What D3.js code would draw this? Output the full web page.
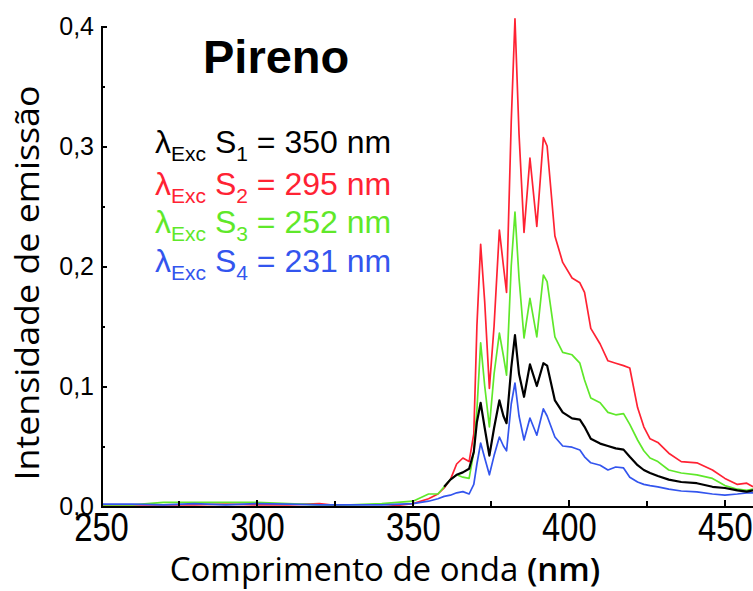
<!DOCTYPE html>
<html lang="pt">
  <head>
    <meta charset="utf-8" />
    <script src="https://d3js.org/d3.v7.min.js"></script>
    <style>
      body {
        margin: 0;
        background: #fff;
      }
      .axis path,
      .axis line {
        stroke: #000;
        stroke-width: 2px;
        shape-rendering: crispEdges;
      }
      .axis text {
        font-family: "Liberation Sans", Arial, sans-serif;
        fill: #000;
      }
    </style>
  </head>
  <body>
    <svg width="753" height="591"></svg>
    <script>
      // comprimento de onda (nm)
      var wavelengths = [250, 260, 270, 280, 290, 300, 310, 320, 330, 340, 350, 355, 358, 360, 362, 364, 366, 368, 369.5, 370.5,
        371.7, 373, 374.5, 376, 377.7, 379, 380, 381.5, 382.7, 384, 385.6, 387.5, 389.7, 391.8, 393, 395.5, 398, 401, 403.5, 405,
        407, 410, 412.5, 415, 417.5, 419.5, 422, 424, 426, 428.5, 432, 436, 441, 446, 450, 454, 457, 459];

      // S1 (350 nm) - only recorded from 360 nm
      var s1 = [null, null, null, null, null, null, null, null, null, null, null, null, null, 0.016, 0.022, 0.026, 0.028, 0.031, 0.045, 0.07,
        0.086, 0.065, 0.042, 0.065, 0.088, 0.075, 0.069, 0.115, 0.1425, 0.11, 0.091, 0.118, 0.1, 0.119, 0.117, 0.088, 0.078, 0.073, 0.072, 0.066,
        0.056, 0.052, 0.05, 0.048, 0.047, 0.041, 0.034, 0.03, 0.0275, 0.025, 0.022, 0.02, 0.019, 0.016, 0.015, 0.013, 0.012, 0.013];

      var s2 = [0.001, 0.001, 0.001, 0.001, 0.0015, 0.001, 0.001, 0.002, -0.001, -0.001, 0.002, 0.006, 0.01, 0.015, 0.022, 0.035, 0.04, 0.037, 0.06, 0.15,
        0.218, 0.17, 0.098, 0.15, 0.23, 0.2, 0.178, 0.32, 0.406, 0.31, 0.228, 0.29, 0.233, 0.307, 0.3, 0.225, 0.203, 0.19, 0.186, 0.178,
        0.148, 0.135, 0.121, 0.119, 0.117, 0.115, 0.082, 0.066, 0.056, 0.053, 0.044, 0.037, 0.036, 0.03, 0.023, 0.018, 0.019, 0.016];

      var s3 = [0.001, 0.001, 0.003, 0.003, 0.003, 0.003, 0.002, 0.001, 0.001, 0.002, 0.004, 0.01, 0.01, 0.016, 0.022, 0.026, 0.024, 0.023, 0.045, 0.08,
        0.136, 0.1, 0.066, 0.11, 0.144, 0.125, 0.109, 0.2, 0.245, 0.19, 0.14, 0.173, 0.141, 0.1925, 0.187, 0.141, 0.128, 0.126, 0.119, 0.105,
        0.09, 0.086, 0.078, 0.076, 0.077, 0.068, 0.055, 0.046, 0.04, 0.037, 0.03, 0.0275, 0.026, 0.023, 0.017, 0.014, 0.013, 0.014];

      var s4 = [0.0015, 0.0015, 0.001, 0.002, 0.001, 0.002, 0.0015, 0.001, 0.001, 0.001, 0.002, 0.004, 0.006, 0.008, 0.009, 0.011, 0.012, 0.01, 0.018, 0.035,
        0.0525, 0.04, 0.026, 0.042, 0.0575, 0.05, 0.046, 0.085, 0.1025, 0.075, 0.055, 0.0733, 0.059, 0.081, 0.075, 0.0575, 0.05, 0.049, 0.0467, 0.041,
        0.036, 0.034, 0.03, 0.0325, 0.0317, 0.024, 0.02, 0.018, 0.017, 0.016, 0.014, 0.0125, 0.0117, 0.01, 0.009, 0.01, 0.011, 0.011];

      var seriesNames = ["S1", "S2", "S3", "S4"];
      var excitation = ["350", "295", "252", "231"];
      var colors = ["#000000", "#ff2233", "#5fe82a", "#3355ee"];
      var xTicks = [250, 300, 350, 400, 450];
      var yTicks = [0, 0.1, 0.2, 0.3, 0.4];

      var svg = d3.select("svg");

      var x = d3.scaleLinear().domain([250, 459]).range([101, 753]);
      var y = d3.scaleLinear().domain([0, 0.4]).range([506, 26]);

      var allSeries = [s1, s2, s3, s4];
      var line = d3
        .line()
        .defined(function (d) { return d[1] !== null; })
        .x(function (d) { return x(d[0]); })
        .y(function (d) { return y(d[1]); });

      // draw order: red, green, blue, black on top
      [1, 2, 3, 0].forEach(function (i) {
        var pts = wavelengths.map(function (w, k) { return [w, allSeries[i][k]]; });
        svg
          .append("path")
          .datum(pts)
          .attr("fill", "none")
          .attr("stroke", colors[i])
          .attr("stroke-width", i === 0 ? 2.2 : 1.7)
          .attr("stroke-linejoin", "round")
          .attr("d", line);
      });

      // x axis
      var xAxis = svg
        .append("g")
        .attr("class", "axis")
        .attr("transform", "translate(0," + y(0) + ")")
        .call(d3.axisBottom(x).tickValues(xTicks).tickSize(-6).tickSizeOuter(0).tickPadding(7));
      xAxis
        .selectAll("text")
        .style("font-size", "40px")
        .attr("transform", "scale(0.82,1)");

      svg
        .append("g")
        .attr("class", "axis")
        .attr("transform", "translate(0," + y(0) + ")")
        .call(d3.axisBottom(x).tickValues([275, 325, 375, 425]).tickSize(-5).tickFormat(""))
        .select(".domain")
        .remove();

      // y axis
      svg
        .append("g")
        .attr("class", "axis")
        .attr("transform", "translate(" + x(250) + ",0)")
        .call(
          d3
            .axisLeft(y)
            .tickValues(yTicks)
            .tickSize(-6)
            .tickSizeOuter(0)
            .tickPadding(7)
            .tickFormat(function (d) { return d3.format(".1f")(d).replace(".", ","); })
        )
        .selectAll("text")
        .style("font-size", "25px");

      svg
        .append("g")
        .attr("class", "axis")
        .attr("transform", "translate(" + x(250) + ",0)")
        .call(d3.axisLeft(y).tickValues([0.05, 0.15, 0.25, 0.35]).tickSize(-4).tickFormat(""))
        .select(".domain")
        .remove();

      // axis titles
      svg
        .append("text")
        .attr("transform", "translate(39,283) rotate(-90)")
        .attr("text-anchor", "middle")
        .attr("font-family", "'Open Sans', sans-serif")
        .attr("font-size", "33px")
        .attr("textLength", 395)
        .attr("lengthAdjust", "spacingAndGlyphs")
        .text("Intensidade de emissão");

      var xt = svg
        .append("text")
        .attr("x", 385)
        .attr("y", 581)
        .attr("text-anchor", "middle")
        .attr("font-family", "'Open Sans', sans-serif")
        .attr("font-size", "33px");
      xt.append("tspan").text("Comprimento de onda ");
      xt.append("tspan").attr("font-weight", "600").text("(nm)");

      // title
      svg
        .append("text")
        .attr("x", 203)
        .attr("y", 73)
        .attr("font-family", "'Liberation Sans', Arial, sans-serif")
        .attr("font-weight", "bold")
        .attr("font-size", "47px")
        .text("Pireno");

      // legend
      var baselines = [153, 195, 233, 272];
      seriesNames.forEach(function (name, i) {
        var t = svg
          .append("text")
          .attr("x", 155)
          .attr("y", baselines[i])
          .attr("fill", colors[i])
          .attr("font-family", "'Liberation Sans', Arial, sans-serif")
          .attr("font-size", "32px");
        t.append("tspan").text("λ");
        t.append("tspan").attr("font-size", "21px").attr("dy", 8).text("Exc");
        t.append("tspan").attr("dy", -8).text(" S");
        t.append("tspan").attr("font-size", "21px").attr("dy", 8).text(name.slice(1));
        t.append("tspan").attr("dy", -8).text(" = " + excitation[i] + " nm");
      });
    </script>
  </body>
</html>
